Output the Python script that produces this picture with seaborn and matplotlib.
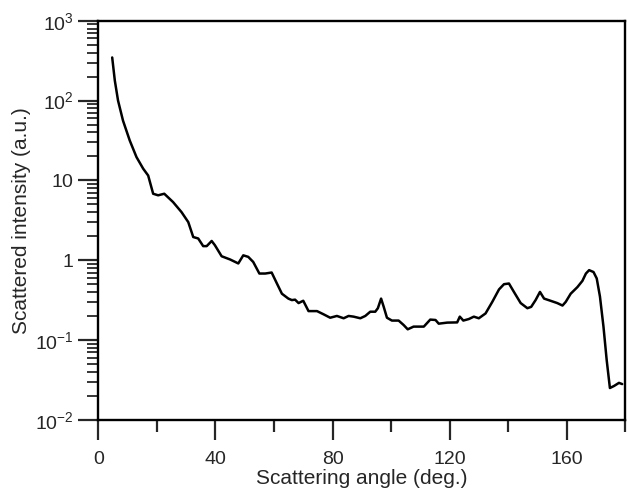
import numpy as np
import pandas as pd
import matplotlib
matplotlib.use("Agg")
import matplotlib.pyplot as plt
import matplotlib.ticker as mticker
import seaborn as sns

# values
angle = [4.7, 5.6, 6.7, 8.4, 10.7, 13.0, 15.3, 17.0, 18.7, 20.4, 22.5, 25.5,
         28.4, 30.7, 32.4, 34.1, 35.8, 37.0, 38.7, 39.8, 42.1, 45.0, 47.8,
         49.5, 51.2, 52.9, 55.0, 57.0, 59.2, 61.0, 62.7, 64.9, 66.1, 67.2,
         68.4, 70.0, 71.8, 74.7, 76.9, 79.2, 81.5, 83.8, 85.5, 87.2, 89.5,
         91.2, 92.9, 94.6, 95.5, 96.6, 97.5, 98.6, 100.3, 102.6, 104.3, 105.7,
         107.7, 111.2, 113.4, 115.2, 116.3, 119.2, 122.6, 123.5, 124.7, 126.6,
         128.3, 130.0, 132.3, 134.6, 136.9, 138.6, 140.3, 142.0, 144.3, 146.6,
         147.9, 149.4, 150.9, 152.3, 154.5, 156.8, 158.6, 159.7, 161.4, 163.7,
         165.4, 166.6, 167.7, 169.2, 170.3, 171.4, 172.6, 173.7, 174.8, 176.2,
         177.9, 179.0]
intensity = [347, 178, 100, 56, 31.6, 19.6, 14.0, 11.5, 6.8, 6.5, 6.8, 5.35,
             4.0, 3.0, 1.95, 1.87, 1.5, 1.5, 1.74, 1.54, 1.12, 1.02, 0.91,
             1.15, 1.1, 0.95, 0.68, 0.68, 0.70, 0.51, 0.38, 0.33, 0.316, 0.32,
             0.29, 0.31, 0.23, 0.23, 0.21, 0.19, 0.20, 0.187, 0.20, 0.196, 0.187,
             0.20, 0.226, 0.226, 0.25, 0.33, 0.26, 0.19, 0.175, 0.175, 0.154, 0.136,
             0.147, 0.147, 0.18, 0.178, 0.16, 0.165, 0.166, 0.196, 0.175, 0.183,
             0.196, 0.187, 0.215, 0.30, 0.43, 0.50, 0.51, 0.40, 0.29, 0.25,
             0.26, 0.316, 0.40, 0.33, 0.31, 0.29, 0.27, 0.30, 0.38, 0.46,
             0.55, 0.68, 0.75, 0.71, 0.59, 0.35, 0.147, 0.056, 0.025, 0.0265,
             0.029, 0.028]

x_ticks = [0, 40, 80, 120, 160]
x_minor = [20, 60, 100, 140, 180]
y_ticks = [1e-2, 1e-1, 1, 10, 1e2, 1e3]
# empty superscript space keeps the plain numbers lined up with the powers of ten
y_tick_labels = ["$10^{-2}$", "$10^{-1}$", r"$1^{\quad}$",
                 r"$10^{\quad}$", "$10^{2}$", "$10^{3}$"]

sns.set_style("ticks")
plt.rcParams["font.family"] = ["Liberation Sans", "DejaVu Sans"]
plt.rcParams["mathtext.default"] = "regular"

df = pd.DataFrame({"angle": angle, "intensity": intensity})

fig = plt.figure(figsize=(6.27, 4.95), dpi=100)
ax = fig.add_axes([0.157, 0.152, 0.84, 0.806])
sns.lineplot(data=df, x="angle", y="intensity", color="black", linewidth=1.8, ax=ax)

ax.set_yscale("log")
ax.set_xlim(0, 180)
ax.set_ylim(1e-2, 1e3)

ax.set_xticks(x_ticks)
ax.xaxis.set_minor_locator(mticker.FixedLocator(x_minor))
ax.set_yticks(y_ticks)
ax.set_yticklabels(y_tick_labels)
ax.yaxis.set_minor_locator(mticker.LogLocator(base=10, subs=np.arange(2, 10)))
ax.yaxis.set_minor_formatter(mticker.NullFormatter())

ax.tick_params(axis="x", which="major", direction="out", length=14.5, width=1.6,
               labelsize=14, pad=8)
ax.tick_params(axis="x", which="minor", direction="out", length=8.5, width=1.6)
ax.tick_params(axis="y", which="major", direction="out", length=14.5, width=1.6,
               labelsize=14, pad=3)
ax.tick_params(axis="y", which="minor", direction="out", length=8, width=1.3)

for side in ["left", "right", "top", "bottom"]:
    ax.spines[side].set_visible(True)
    ax.spines[side].set_linewidth(1.7)
    ax.spines[side].set_color("black")

ax.set_xlabel("Scattering angle (deg.)", fontsize=15, labelpad=1)
ax.set_ylabel("Scattered intensity (a.u.)", fontsize=15, labelpad=3)

fig.savefig("out.png", dpi=100)
